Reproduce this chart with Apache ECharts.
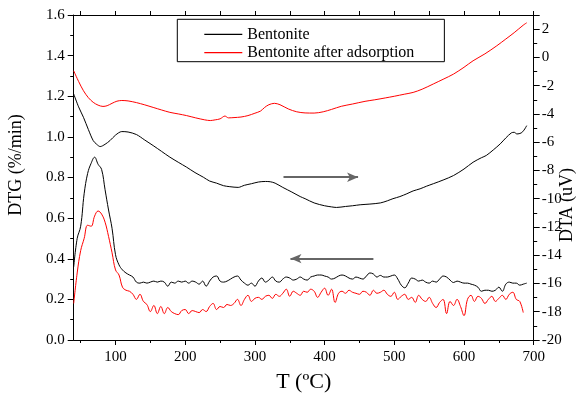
<!DOCTYPE html>
<html>
<head>
<meta charset="utf-8">
<script src="https://cdn.jsdelivr.net/npm/echarts@6/dist/echarts.min.js"></script>
<style>html,body{margin:0;padding:0;background:#fff;}#c{width:580px;height:398px;}</style>
</head>
<body>
<div id="c"></div>
<script>
// DTG (left axis) temperatures, °C
const dtgTemps = [40,45,50,55,60,65,70,75,80,85,90,95,100,105,110,115,120,125,130,135,140,145,150,155,160,165,170,175,180,185,190,195,200,205,210,215,220,225,230,235,240,245,250,255,260,265,270,275,280,285,290,295,300,305,310,315,320,325,330,335,340,345,350,355,360,365,370,375,380,385,390,395,400,405,410,415,420,425,430,435,440,445,450,455,460,465,470,475,480,485,490,495,500,505,510,515,520,525,530,535,540,545,550,555,560,565,570,575,580,585,590,595,600,605,610,615,620,625,630,635,640,645,650,655,660,665,670,675,680,685,690];
const dtgBentonite = [0.36,0.50,0.56,0.72,0.82,0.87,0.90,0.865,0.84,0.74,0.64,0.55,0.42,0.37,0.345,0.33,0.32,0.31,0.285,0.28,0.285,0.28,0.285,0.29,0.285,0.29,0.285,0.265,0.285,0.28,0.29,0.285,0.29,0.28,0.29,0.285,0.275,0.29,0.265,0.29,0.31,0.315,0.29,0.285,0.29,0.30,0.31,0.315,0.295,0.28,0.27,0.28,0.265,0.29,0.305,0.285,0.295,0.31,0.29,0.285,0.30,0.31,0.305,0.295,0.30,0.31,0.30,0.295,0.31,0.315,0.32,0.32,0.315,0.31,0.30,0.305,0.315,0.32,0.315,0.305,0.30,0.31,0.305,0.30,0.315,0.33,0.325,0.31,0.318,0.31,0.31,0.315,0.32,0.30,0.27,0.257,0.28,0.305,0.30,0.29,0.295,0.285,0.28,0.29,0.285,0.30,0.315,0.31,0.295,0.283,0.29,0.285,0.28,0.28,0.275,0.27,0.26,0.24,0.245,0.245,0.24,0.245,0.26,0.24,0.275,0.285,0.28,0.28,0.27,0.275,0.28];
const dtgAfter = [0.18,0.33,0.44,0.50,0.565,0.56,0.61,0.635,0.62,0.58,0.51,0.43,0.345,0.32,0.26,0.245,0.24,0.225,0.20,0.225,0.19,0.175,0.14,0.17,0.13,0.165,0.13,0.16,0.14,0.13,0.125,0.145,0.15,0.13,0.145,0.14,0.135,0.15,0.14,0.165,0.18,0.15,0.165,0.16,0.175,0.17,0.18,0.20,0.17,0.20,0.22,0.19,0.205,0.21,0.20,0.215,0.22,0.205,0.225,0.215,0.23,0.25,0.215,0.24,0.23,0.22,0.24,0.235,0.25,0.24,0.21,0.235,0.255,0.22,0.25,0.185,0.23,0.24,0.23,0.245,0.235,0.23,0.225,0.24,0.235,0.22,0.245,0.23,0.235,0.245,0.225,0.215,0.235,0.20,0.215,0.225,0.20,0.21,0.185,0.22,0.20,0.19,0.21,0.18,0.16,0.185,0.20,0.13,0.19,0.17,0.20,0.165,0.12,0.20,0.22,0.19,0.215,0.205,0.18,0.20,0.215,0.19,0.205,0.22,0.20,0.225,0.235,0.20,0.19,0.135,null];

// DTA (right axis)
const dtaBentoniteT = [40,47,54,61,68,73,78,85,92,100,109,118,130,142,154,166,178,190,202,214,226,235,245,255,264,276,285,295,305,315,322,329,340,353,365,372,385,400,410,417,430,440,451,465,480,490,498,508,518,527,537,546,556,570,585,600,613,625,632,642,652,660,668,672,676,682,686,690];
const dtaBentonite = [-2.59,-3.5,-4.24,-5.1,-5.89,-6.15,-6.31,-6.15,-5.89,-5.5,-5.25,-5.28,-5.46,-5.85,-6.24,-6.65,-7.06,-7.42,-7.77,-8.15,-8.48,-8.75,-8.9,-9.08,-9.15,-9.2,-9.05,-8.94,-8.82,-8.78,-8.8,-8.9,-9.2,-9.53,-9.85,-10.0,-10.3,-10.5,-10.58,-10.62,-10.55,-10.5,-10.43,-10.38,-10.3,-10.15,-10.0,-9.85,-9.65,-9.45,-9.3,-9.12,-8.94,-8.68,-8.36,-7.9,-7.42,-7.1,-6.94,-6.55,-6.12,-5.7,-5.34,-5.3,-5.42,-5.35,-5.15,-4.83];
const dtaAfterT = [40,47,54,61,68,75,82,88,95,102,109,118,130,142,154,166,178,190,202,215,228,236,243,250,257,262,270,280,290,300,308,314,320,328,336,348,360,372,385,398,410,424,440,458,472,487,500,515,527,540,556,570,585,600,613,630,647,660,672,685,690];
const dtaAfter = [-0.95,-1.7,-2.36,-2.85,-3.18,-3.38,-3.47,-3.42,-3.25,-3.1,-3.05,-3.08,-3.2,-3.36,-3.54,-3.72,-3.89,-4.0,-4.12,-4.28,-4.42,-4.47,-4.42,-4.35,-4.15,-4.28,-4.26,-4.22,-4.12,-3.95,-3.8,-3.54,-3.35,-3.25,-3.35,-3.65,-3.85,-3.93,-3.94,-3.85,-3.68,-3.46,-3.3,-3.11,-3.0,-2.87,-2.75,-2.6,-2.48,-2.25,-1.88,-1.55,-1.18,-0.7,-0.24,0.25,0.82,1.3,1.75,2.28,2.45];

// axis tick values
const xLabels = [100,200,300,400,500,600,700];
const xMinor = [50,150,250,350,450,550,650];
const xTop = [50,100,150,200,250,300,350,400,450,500,550,600,650,700];

const zip = (a, b) => a.map((v, i) => [v, b[i]]);
const FONT = 'Liberation Serif, Times New Roman, serif';

const chart = echarts.init(document.getElementById('c'), null, {renderer: 'canvas'});
const axisCommon = {
  axisLine: {show: true, onZero: false, lineStyle: {color: '#000', width: 1}},
  splitLine: {show: false},
  axisLabel: {color: '#000', fontFamily: FONT, fontSize: 15}
};
chart.setOption({
  animation: false,
  backgroundColor: '#fff',
  textStyle: {fontFamily: FONT},
  grid: {left: 73.7, right: 46.3, top: 15, bottom: 57.3, containLabel: false},
  legend: {
    show: true,
    orient: 'vertical',
    left: 177.3, top: 19.3,
    padding: [7, 30, 1, 27],
    icon: 'rect',
    itemWidth: 38, itemHeight: 1.2, itemGap: 2.4, itemTextGap: 5,
    borderColor: '#000', borderWidth: 1, borderRadius: 0,
    textStyle: {color: '#000', fontFamily: FONT, fontSize: 16, lineHeight: 16},
    data: ['Bentonite', 'Bentonite after adsorption']
  },
  xAxis: [
    Object.assign({}, axisCommon, {
      type: 'value', min: 40, max: 700, position: 'bottom',
      axisTick: {show: true, length: 5, customValues: xLabels, lineStyle: {color: '#000'}},
      axisLabel: {color: '#000', fontFamily: FONT, fontSize: 15, margin: 10, customValues: xLabels},
      name: 'T (ºC)', nameLocation: 'middle', nameGap: 31,
      nameTextStyle: {color: '#000', fontFamily: FONT, fontSize: 22}
    }),
    {
      type: 'value', min: 40, max: 700, position: 'bottom',
      axisLine: {show: false}, splitLine: {show: false}, axisLabel: {show: false},
      axisTick: {show: true, length: 3, customValues: xMinor, lineStyle: {color: '#000'}}
    },
    {
      type: 'value', min: 40, max: 700, position: 'top',
      axisLine: {show: true, onZero: false, lineStyle: {color: '#000'}}, splitLine: {show: false}, axisLabel: {show: false},
      axisTick: {show: true, length: 4, customValues: xTop, lineStyle: {color: '#000'}}
    }
  ],
  yAxis: [
    Object.assign({}, axisCommon, {
      type: 'value', min: 0, max: 1.6, interval: 0.2, position: 'left',
      axisTick: {show: true, length: 6, lineStyle: {color: '#000'}},
      minorTick: {show: true, splitNumber: 2, length: 3.5, lineStyle: {color: '#000'}},
      minorSplitLine: {show: false},
      axisLabel: {color: '#000', fontFamily: FONT, fontSize: 15, margin: 9, formatter: v => v.toFixed(1)}
    }),
    Object.assign({}, axisCommon, {
      type: 'value', min: -20, max: 3, interval: 2, position: 'right',
      axisTick: {show: true, length: 6, lineStyle: {color: '#000'}},
      minorTick: {show: true, splitNumber: 2, length: 3.5, lineStyle: {color: '#000'}},
      minorSplitLine: {show: false},
      axisLabel: {color: '#000', fontFamily: FONT, fontSize: 15, margin: 8, showMaxLabel: false}
    })
  ],
  graphic: [
    {type: 'text', x: 16.7, y: 165, rotation: Math.PI / 2,
     style: {text: 'DTG (%/min)', fill: '#000', font: '18px ' + FONT, align: 'center', verticalAlign: 'middle'}},
    {type: 'text', x: 567, y: 205, rotation: Math.PI / 2,
     style: {text: 'DTA (uV)', fill: '#000', font: '18px ' + FONT, align: 'center', verticalAlign: 'middle'}}
  ],
  series: [
    {
      name: 'Bentonite', type: 'line', xAxisIndex: 0, yAxisIndex: 1,
      data: zip(dtaBentoniteT, dtaBentonite), symbol: 'none', smooth: 0.3,
      lineStyle: {color: '#000', width: 1}, itemStyle: {color: '#000'},
      markLine: {
        silent: true, symbol: ['none', 'arrow'], symbolSize: [7, 11],
        label: {show: false},
        lineStyle: {color: '#666', width: 2, type: 'solid'},
        data: [[{coord: [341, -8.48]}, {coord: [448, -8.48]}]]
      }
    },
    {
      name: 'Bentonite after adsorption', type: 'line', xAxisIndex: 0, yAxisIndex: 1,
      data: zip(dtaAfterT, dtaAfter), symbol: 'none', smooth: 0.3,
      lineStyle: {color: '#ff0000', width: 1}, itemStyle: {color: '#ff0000'}
    },
    {
      name: 'Bentonite', type: 'line', xAxisIndex: 0, yAxisIndex: 0,
      data: zip(dtgTemps, dtgBentonite), symbol: 'none', smooth: 0.4,
      lineStyle: {color: '#000', width: 1}, itemStyle: {color: '#000'},
      markLine: {
        silent: true, symbol: ['none', 'arrow'], symbolSize: [7, 11],
        label: {show: false},
        lineStyle: {color: '#666', width: 2, type: 'solid'},
        data: [[{coord: [470, 0.401]}, {coord: [351, 0.401]}]]
      }
    },
    {
      name: 'Bentonite after adsorption', type: 'line', xAxisIndex: 0, yAxisIndex: 0,
      data: zip(dtgTemps, dtgAfter), symbol: 'none', smooth: 0.4,
      lineStyle: {color: '#ff0000', width: 1}, itemStyle: {color: '#ff0000'}
    }
  ]
});
</script>
</body>
</html>
